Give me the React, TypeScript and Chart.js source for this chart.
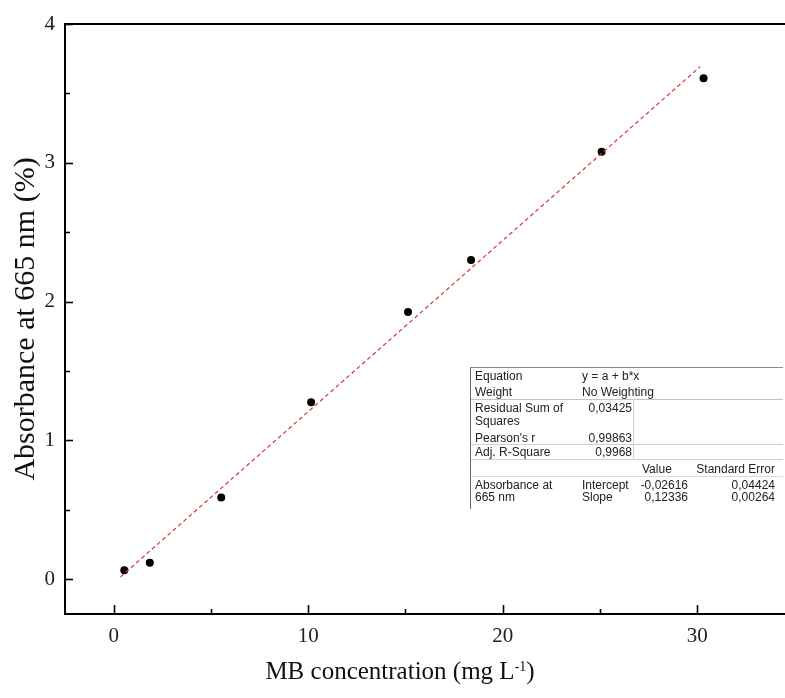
import React, { useEffect, useRef } from "react";
import { Chart, registerables } from "chart.js";

Chart.register(...registerables);

// ---- data ----
const concentration = [0.55, 1.86, 5.53, 10.15, 15.13, 18.37, 25.08, 30.32];
const absorbance = [0.065, 0.12, 0.589, 1.276, 1.926, 2.3, 3.08, 3.61];
const fitIntercept = -0.02616;
const fitSlope = 0.12336;
const fitRange = [0.35, 30.15];
const xTicks = [0, 5, 10, 15, 20, 25, 30];
const yTicks = [0, 0.5, 1, 1.5, 2, 2.5, 3, 3.5, 4];
const xRange = [-2.5, 34.3];
const yRange = [-0.25, 4];

const xTitleMain = "MB concentration (mg L";
const xTitleSup = "-1";
const xTitleEnd = ")";
const yTitle = "Absorbance at 665 nm (%)";

type Cell = { text: string; x: number; y: number; align?: "left" | "right" };
const tableCells: Cell[] = [
  { text: "Equation", x: 475, y: 376 },
  { text: "Weight", x: 475, y: 392 },
  { text: "Residual Sum of", x: 475, y: 408 },
  { text: "Squares", x: 475, y: 421 },
  { text: "Pearson's r", x: 475, y: 438 },
  { text: "Adj. R-Square", x: 475, y: 452 },
  { text: "Absorbance at", x: 475, y: 485 },
  { text: "665 nm", x: 475, y: 497 },
  { text: "y = a + b*x", x: 582, y: 376 },
  { text: "No Weighting", x: 582, y: 392 },
  { text: "0,03425", x: 632, y: 408, align: "right" },
  { text: "0,99863", x: 632, y: 438, align: "right" },
  { text: "0,9968", x: 632, y: 452, align: "right" },
  { text: "Value", x: 642, y: 469 },
  { text: "Standard Error", x: 775, y: 469, align: "right" },
  { text: "Intercept", x: 582, y: 485 },
  { text: "Slope", x: 582, y: 497 },
  { text: "-0,02616", x: 688, y: 485, align: "right" },
  { text: "0,12336", x: 688, y: 497, align: "right" },
  { text: "0,04424", x: 775, y: 485, align: "right" },
  { text: "0,00264", x: 775, y: 497, align: "right" },
];

const hLines = [
  { y: 367, x1: 470, x2: 783, c: "#8a8a8a" },
  { y: 399, x1: 470, x2: 783, c: "#c4c4c4" },
  { y: 444, x1: 470, x2: 783, c: "#d0d0d0" },
  { y: 459, x1: 470, x2: 783, c: "#d0d0d0" },
  { y: 476, x1: 470, x2: 783, c: "#dcdcdc" },
];
const vLines = [
  { x: 470, y1: 367, y2: 509, c: "#6a6a6a" },
  { x: 633, y1: 399, y2: 459, c: "#d0d0d0" },
];

const SERIF = "'Liberation Serif', 'DejaVu Serif', serif";

const framePlugin = {
  id: "frame",
  afterDraw(chart: any) {
    const { ctx, chartArea, scales } = chart;
    const { left, top, right, bottom } = chartArea;
    const x = scales.x;
    const y = scales.y;
    ctx.save();
    ctx.strokeStyle = "#000";
    ctx.lineWidth = 2;
    ctx.beginPath();
    ctx.moveTo(left - 1, top);
    ctx.lineTo(785, top);
    ctx.stroke();
    ctx.beginPath();
    ctx.moveTo(right, bottom);
    ctx.lineTo(785, bottom);
    ctx.stroke();
    ctx.lineWidth = 1.6;
    for (const t of x.ticks) {
      const px = Math.round(x.getPixelForValue(t.value)) + 0.5;
      const len = t.value % 10 === 0 ? 9 : 5;
      ctx.beginPath();
      ctx.moveTo(px, bottom);
      ctx.lineTo(px, bottom - len);
      ctx.stroke();
    }
    for (const t of y.ticks) {
      const py = Math.round(y.getPixelForValue(t.value)) + 0.5;
      const len = Number.isInteger(t.value) ? 8 : 5;
      ctx.beginPath();
      ctx.moveTo(left, py);
      ctx.lineTo(left + len, py);
      ctx.stroke();
    }
    ctx.restore();
  },
};

export default function App() {
  const ref = useRef<HTMLCanvasElement | null>(null);

  useEffect(() => {
    if (!ref.current) return;
    const points = concentration.map((c, i) => ({ x: c, y: absorbance[i] }));
    const fit = fitRange.map((v) => ({ x: v, y: fitIntercept + fitSlope * v }));
    const chart = new Chart(ref.current, {
      type: "scatter",
      data: {
        datasets: [
          {
            label: "fit",
            type: "line",
            data: fit,
            borderColor: "#d23c3c",
            borderWidth: 1.2,
            borderDash: [4, 3],
            pointRadius: 0,
            fill: false,
          } as any,
          {
            label: "data",
            data: points,
            backgroundColor: "#000",
            borderColor: "#000",
            pointRadius: 4,
            borderWidth: 0,
          },
        ],
      },
      options: {
        animation: false,
        responsive: false,
        maintainAspectRatio: false,
        layout: { padding: { top: 24, left: 0, right: 0, bottom: 0 } },
        plugins: {
          legend: { display: false },
          tooltip: { enabled: false },
        },
        scales: {
          x: {
            type: "linear",
            min: xRange[0],
            max: xRange[1],
            grid: { display: false, drawTicks: false },
            border: { display: true, color: "#000", width: 2 },
            afterBuildTicks: (s: any) => {
              s.ticks = xTicks.map((v) => ({ value: v }));
            },
            afterFit: (s: any) => {
              s.height = 84;
            },
            ticks: {
              autoSkip: false,
              maxRotation: 0,
              padding: 10,
              color: "#222",
              font: { family: SERIF, size: 21 },
              callback: (v: any) => (Number(v) % 10 === 0 ? String(v) : ""),
            },
            title: { display: false },
          },
          y: {
            type: "linear",
            min: yRange[0],
            max: yRange[1],
            grid: { display: false, drawTicks: false },
            border: { display: true, color: "#000", width: 2 },
            afterBuildTicks: (s: any) => {
              s.ticks = yTicks.map((v) => ({ value: v }));
            },
            afterFit: (s: any) => {
              s.width = 65;
            },
            ticks: {
              autoSkip: false,
              padding: 10,
              color: "#222",
              font: { family: SERIF, size: 21 },
              callback: (v: any) => (Number.isInteger(Number(v)) ? String(v) : ""),
            },
            title: {
              display: true,
              text: yTitle,
              color: "#111",
              font: { family: SERIF, size: 30 },
              padding: { top: 8, bottom: 0 },
            },
          },
        },
      },
      plugins: [framePlugin],
    });
    return () => chart.destroy();
  }, []);

  return (
    <div style={{ position: "absolute", left: 0, top: 0, width: 785, height: 698, background: "#fff", overflow: "hidden" }}>
      <canvas ref={ref} width={785} height={698} style={{ display: "block" }} />
      {hLines.map((l, i) => (
        <div key={"h" + i} style={{ position: "absolute", left: l.x1, top: l.y, width: l.x2 - l.x1, height: 1, background: l.c }} />
      ))}
      {vLines.map((l, i) => (
        <div key={"v" + i} style={{ position: "absolute", left: l.x, top: l.y1, width: 1, height: l.y2 - l.y1, background: l.c }} />
      ))}
      {tableCells.map((c, i) => (
        <div
          key={"c" + i}
          style={{
            position: "absolute",
            top: c.y - 8,
            height: 16,
            lineHeight: "16px",
            left: c.align === "right" ? undefined : c.x,
            right: c.align === "right" ? 785 - c.x : undefined,
            fontFamily: "'Liberation Sans', Arial, sans-serif",
            fontSize: 12,
            color: "#222",
            whiteSpace: "nowrap",
          }}
        >
          {c.text}
        </div>
      ))}
      <div
        style={{
          position: "absolute",
          left: 0,
          width: 800,
          top: 656,
          textAlign: "center",
          fontFamily: SERIF,
          fontSize: 25,
          lineHeight: "30px",
          color: "#111",
          whiteSpace: "nowrap",
        }}
      >
        {xTitleMain}
        <sup style={{ fontSize: 14, verticalAlign: "top", position: "relative", top: -4 }}>{xTitleSup}</sup>
        {xTitleEnd}
      </div>
    </div>
  );
}
